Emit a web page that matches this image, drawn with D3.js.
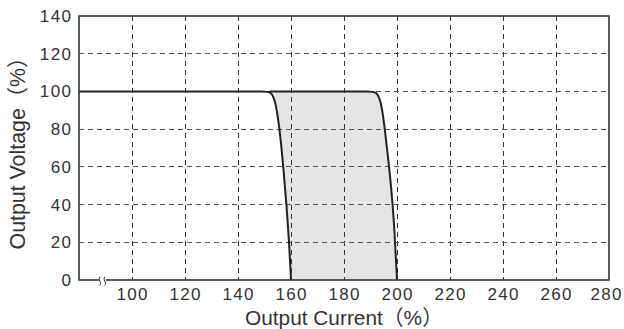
<!DOCTYPE html>
<html><head><meta charset="utf-8">
<script src="https://cdn.jsdelivr.net/npm/d3@7"></script>
<style>body{margin:0;background:#fff;}svg{display:block;}text{font-family:"Liberation Sans","Noto Sans CJK JP",sans-serif;fill:#333;}</style>
</head><body>
<svg id="c" width="624" height="329"></svg>
<script>
const xTicks = [100,120,140,160,180,200,220,240,260,280];
const yTicks = [0,20,40,60,80,100,120,140];
// boundary curves (output current %, output voltage %)
const leftCurve = [[80,100],[140,100],[150,100],[152.5,100],[154,95],[155,87],[156.1,75],[157.2,58],[158.3,40],[159.3,20],[160,0]];
const rightCurve = [[152,100],[180,100],[189.5,100],[192.3,100],[193.8,95],[194.8,87],[195.8,75],[197.2,58],[198.4,40],[199.3,20],[200,0]];
const xLabel = "Output Current（%）";
const yLabel = "Output Voltage（%）";

const svg = d3.select("#c");
const L=79,T=16,R=609,B=280;
const x = d3.scaleLinear().domain([80,280]).range([L,R]);
const y = d3.scaleLinear().domain([0,140]).range([B,T]);
const line = d3.line().x(d=>x(d[0])).y(d=>y(d[1])).curve(d3.curveBasis);

// shaded band
const leftPart = leftCurve.filter(d=>d[0]>=140).slice().reverse();
svg.append("path").attr("d", line(rightCurve) + "L" + line(leftPart).slice(1) + "Z")
  .attr("fill","#e4e5e7").attr("stroke","none");

// grid
svg.append("g").selectAll("line").data(xTicks.filter(v=>v<280)).join("line")
  .attr("x1",d=>x(d)).attr("x2",d=>x(d)).attr("y1",T).attr("y2",B)
  .attr("stroke","#333").attr("stroke-width",1).attr("stroke-dasharray","5,4").attr("shape-rendering","crispEdges");
svg.append("g").selectAll("line").data(yTicks.filter(v=>v>0&&v<140)).join("line")
  .attr("x1",L).attr("x2",R).attr("y1",d=>y(d)).attr("y2",d=>y(d))
  .attr("stroke","#555").attr("stroke-width",1).attr("stroke-dasharray","5,4").attr("shape-rendering","crispEdges");

// curves
svg.append("path").attr("d",line(leftCurve)).attr("fill","none").attr("stroke","#222").attr("stroke-width",2);
svg.append("path").attr("d",line(rightCurve)).attr("fill","none").attr("stroke","#222").attr("stroke-width",2);

// frame
svg.append("rect").attr("x",L).attr("y",T).attr("width",R-L).attr("height",B-T)
  .attr("fill","none").attr("stroke","#333").attr("stroke-width",1.6);

// break mark on x axis
const bx = x(88.8);
svg.append("rect").attr("x",bx-3.5).attr("y",B-2).attr("width",7).attr("height",4).attr("fill","#fff");
[bx-2.5, bx+2.5].forEach(px=>{
  svg.append("path").attr("d",`M${px},${B-3} C${px-2.5},${B} ${px+2.5},${B+2} ${px},${B+5.5}`)
    .attr("fill","none").attr("stroke","#333").attr("stroke-width",1);
});

// tick labels
const ls = 1.4, fs = 17;
svg.append("g").selectAll("text").data(xTicks).join("text")
  .attr("x",d=>Math.min(x(d), 606)+ls/2).attr("y",B+19.5).attr("text-anchor","middle").attr("font-size",fs)
  .attr("letter-spacing",ls).text(d=>d);
svg.append("g").selectAll("text").data(yTicks).join("text")
  .attr("x",L-8+ls).attr("y",d=>y(d)+6).attr("text-anchor","end").attr("font-size",fs)
  .attr("letter-spacing",ls).text(d=>d);

// axis titles, fitted to measured widths
function fit(sel, target){
  const w = sel.node().getComputedTextLength();
  const f = +sel.attr("font-size");
  sel.attr("font-size", f*target/w);
}
const xt = svg.append("text").attr("x",344).attr("y",325).attr("text-anchor","middle").attr("font-size",20).text(xLabel);
fit(xt,198);
const yt = svg.append("text").attr("transform","translate(25,148) rotate(-90)").attr("text-anchor","middle").attr("font-size",20).text(yLabel);
fit(yt,203);
</script>
</body></html>
